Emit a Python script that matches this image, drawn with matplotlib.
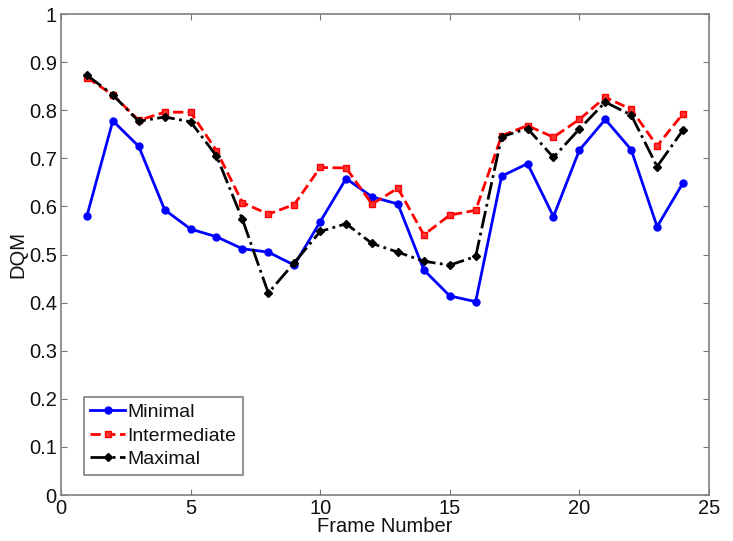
import matplotlib
matplotlib.use("Agg")
import matplotlib.pyplot as plt

frames = list(range(1, 25))
minimal = [0.580, 0.778, 0.725, 0.593, 0.553, 0.537, 0.512, 0.505, 0.478, 0.568, 0.658, 0.620,
           0.605, 0.468, 0.414, 0.402, 0.663, 0.689, 0.579, 0.717, 0.781, 0.718, 0.558, 0.649]
intermediate = [0.868, 0.832, 0.779, 0.796, 0.796, 0.716, 0.608, 0.584, 0.604, 0.681, 0.680, 0.605,
                0.638, 0.541, 0.582, 0.592, 0.747, 0.768, 0.744, 0.781, 0.827, 0.802, 0.726, 0.793]
maximal = [0.873, 0.832, 0.777, 0.786, 0.776, 0.705, 0.573, 0.420, 0.483, 0.548, 0.564, 0.523,
           0.505, 0.486, 0.478, 0.496, 0.745, 0.762, 0.702, 0.761, 0.817, 0.790, 0.683, 0.759]

xticks = [0, 5, 10, 15, 20, 25]
yticks = [0, 0.1, 0.2, 0.3, 0.4, 0.5, 0.6, 0.7, 0.8, 0.9, 1]
ytick_labels = ["0", "0.1", "0.2", "0.3", "0.4", "0.5", "0.6", "0.7", "0.8", "0.9", "1"]

plt.rcParams['font.family'] = ['Liberation Sans', 'DejaVu Sans']

fig = plt.figure(figsize=(7.33, 5.41), dpi=100)
ax = fig.add_axes([0.0832, 0.085, 0.884, 0.889])

ax.plot(frames, minimal, '-o', color='#0000ff', lw=2, ms=5, label='Minimal')
ax.plot(frames, intermediate, '--s', color='#ff0000', lw=2, ms=5, mfc='#ff3030', label='Intermediate')
ax.plot(frames, maximal, '-.D', color='black', lw=2, ms=4.5, label='Maximal')

ax.set_xlim(0, 25)
ax.set_ylim(0, 1)
ax.set_xticks(xticks)
ax.set_xticklabels([str(t) for t in xticks])
ax.set_yticks(yticks)
ax.set_yticklabels(ytick_labels)
ax.tick_params(direction='in', top=True, right=True, labelsize=14.5, length=4, colors='#777777',
               labelcolor='#111111', pad=3)
for s in ax.spines.values():
    s.set_color('#808080')
    s.set_linewidth(1.2)

ax.set_xlabel('Frame Number', fontsize=14.5, labelpad=-1, color='#111111')
ax.set_ylabel('DQM', fontsize=14.5, labelpad=1, color='#111111')

leg = ax.legend(loc='lower left', bbox_to_anchor=(0.035, 0.042), borderaxespad=0, fontsize=14,
                handlelength=1.8, handletextpad=0.1, borderpad=0.35, labelspacing=0.3,
                fancybox=False, edgecolor='#808080', framealpha=1)
leg.get_frame().set_linewidth(1.2)
for t in leg.get_texts():
    t.set_color('#111111')

fig.savefig('out.png', dpi=100)
